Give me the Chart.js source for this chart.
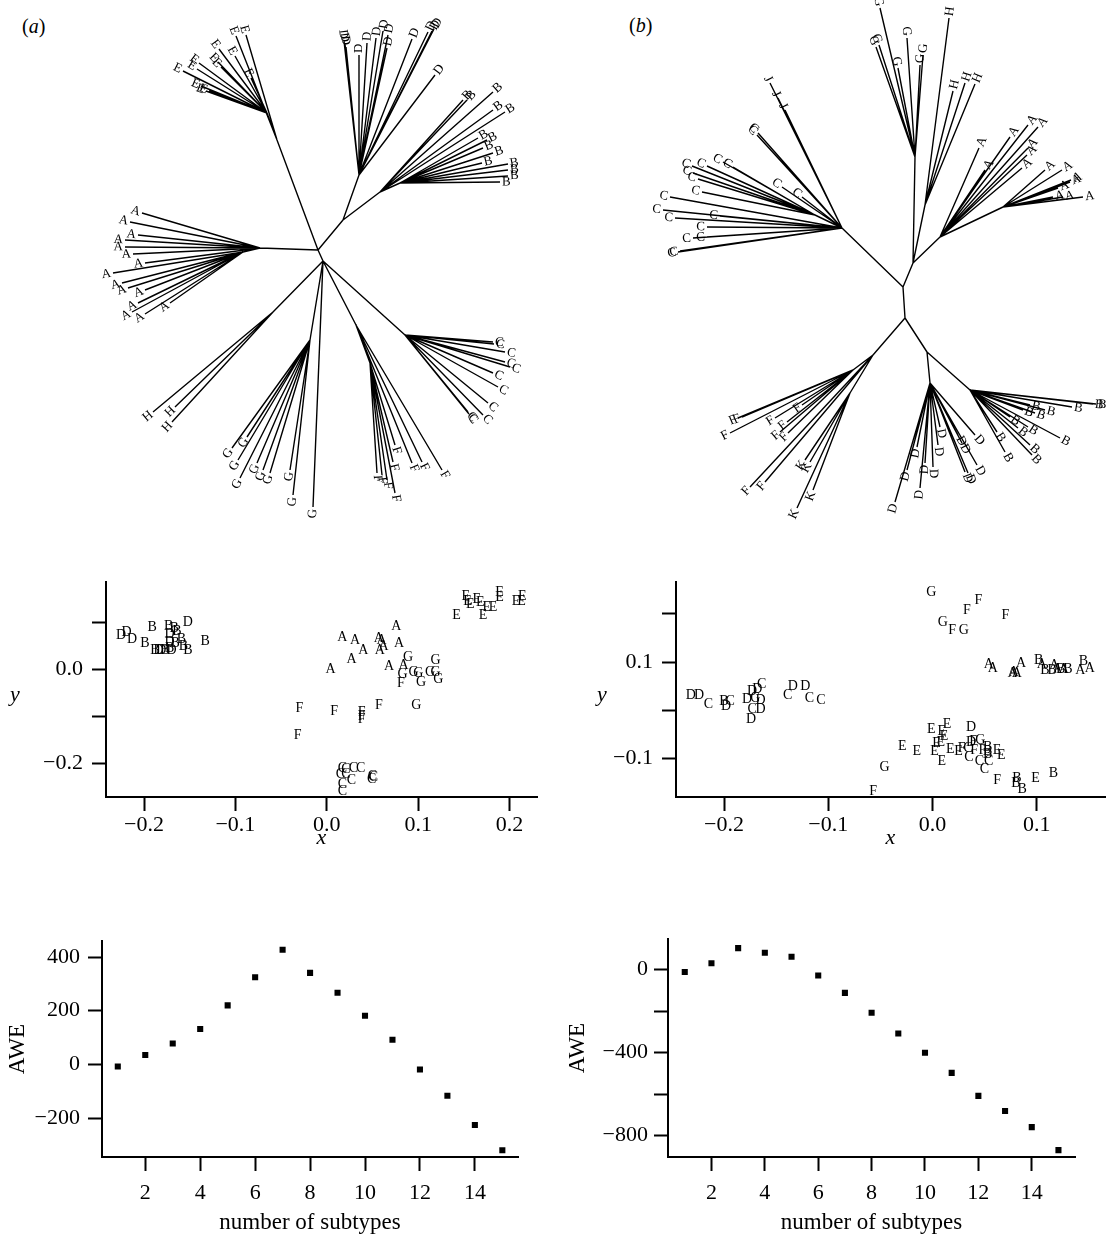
<!DOCTYPE html>
<html><head><meta charset="utf-8">
<script src="https://cdn.jsdelivr.net/npm/chart.js@4.4.1/dist/chart.umd.min.js"></script>
<style>
body{margin:0;background:#fff;width:1115px;height:1237px;position:relative;overflow:hidden;font-family:"Liberation Serif",serif}
.p{position:absolute}
.lab{position:absolute;font-size:20px;line-height:24px;font-family:"Liberation Serif",serif;color:#000}
</style></head><body>
<div class="lab" style="left:22px;top:14px">(<i>a</i>)</div>
<div class="lab" style="left:629px;top:13px">(<i>b</i>)</div>
<div class="p" style="left:0;top:0;width:557px;height:530px"><canvas id="treeA"></canvas></div>
<div class="p" style="left:557px;top:0;width:558px;height:530px"><canvas id="treeB"></canvas></div>
<div class="p" style="left:0;top:560px;width:557px;height:300px"><canvas id="scatA"></canvas></div>
<div class="p" style="left:557px;top:560px;width:558px;height:300px"><canvas id="scatB"></canvas></div>
<div class="p" style="left:0;top:920px;width:557px;height:317px"><canvas id="aweA"></canvas></div>
<div class="p" style="left:557px;top:920px;width:558px;height:317px"><canvas id="aweB"></canvas></div>
<script>
// ---------------- DATA ----------------
// Tree (a): internal nodes [x, y, parentIndex] (tree units, y downward, root at 0,0)
const treeANodes = [
 [0,0,-1],[25,-30,0],[41,-75,1],[62,-58,1],[82,-67,3],[-41,-110,0],[-51,-137,5],
 [-58,-2,0],[-75,2,7],[5,11,0],[87,85,9],[38,75,9],[52,113,11],[-8,90,9],[-45,62,9]
];
// Tree (a): leaves [label, x, y, parentIndex]
const treeALeaves = [
 ['E',-135,-179,6],['E',-119,-187,6],['E',-121,-181,6],['E',-99,-201,6],['E',-100,-188,6],['E',-97,-183,6],
 ['E',-83,-194,6],['E',-67,-172,6],['E',-117,-164,6],['E',-112,-159,6],['E',-109,-159,6],['E',-82,-214,5],['E',-72,-215,5],
 ['D',28,-203,2],['D',27,-206,2],['D',26,-209,2],['D',41,-195,2],['D',49,-207,2],['D',58,-212,2],['D',65,-219,2],
 ['D',70,-215,2],['D',69,-202,2],['D',94,-211,2],['D',110,-218,2],['D',114,-219,2],['D',116,-221,2],['D',117,-175,2],
 ['B',145,-150,3],['B',149,-150,3],['B',175,-158,3],['B',175,-140,3],['B',187,-138,3],
 ['B',160,-112,4],['B',169,-110,4],['B',165,-102,4],['B',175,-97,4],['B',164,-87,4],['B',190,-86,4],['B',190,-80,4],['B',190,-74,4],['B',182,-68,4],
 ['A',-176,-37,7],['A',-188,-28,7],['A',-180,-15,7],['A',-193,-10,7],['A',-193,-3,7],['A',-185,4,7],['A',-173,13,7],
 ['A',-205,23,8],['A',-196,33,8],['A',-190,38,8],['A',-173,40,8],['A',-180,53,8],['A',-186,62,8],['A',-173,64,8],['A',-148,53,8],
 ['H',-165,162,14],['H',-143,157,14],['H',-146,172,14],
 ['G',-86,198,13],['G',-71,187,13],['G',-80,210,13],['G',-78,228,13],['G',-61,213,13],['G',-55,220,13],['G',-48,223,13],
 ['G',-28,220,13],['G',-25,245,13],['G',-5,257,9],
 ['F',59,223,12],['F',64,225,12],['F',69,230,12],['F',77,195,12],['F',75,212,12],['F',77,243,12],['F',94,213,11],['F',104,212,11],['F',124,220,11],
 ['C',175,92,10],['C',176,94,10],['C',187,102,10],['C',187,112,10],['C',192,117,10],['C',175,123,10],['C',180,137,10],
 ['C',170,153,10],['C',150,162,10],['C',151,164,10],['C',165,165,10]
];
// Tree (b): internal nodes
const treeBNodes = [
 [0,0,-1],[2,31,0],[-61,-59,0],[10,-24,0],[12,-130,3],[22,-82,3],[37,-50,3],[100,-80,6],
 [-88,-72,2],[-30,68,1],[24,65,1],[-50,83,9],[-53,106,9],[27,96,10],[67,103,10]
];
// Tree (b): leaves
const treeBLeaves = [
 ['J',-133,-204,2],['J',-125,-189,2],['J',-118,-177,2],
 ['C',-146,-152,2],['C',-145,-154,2],['C',-233,-90,2],['C',-240,-77,2],['C',-228,-69,2],
 ['C',-211,-121,8],['C',-210,-114,8],['C',-205,-108,8],['C',-201,-95,8],['C',-196,-121,8],['C',-180,-125,8],['C',-170,-120,8],
 ['C',-183,-71,2],['C',-196,-60,2],['C',-196,-50,2],['C',-210,-49,2],['C',-223,-36,2],['C',-225,-35,2],['C',-121,-100,2],['C',-101,-90,2],
 ['G',-23,-279,4],['G',-27,-240,4],['G',-24,-242,4],['G',4,-249,4],['G',-5,-219,4],['G',17,-222,4],['G',20,-232,4],
 ['H',46,-269,5],['H',50,-196,5],['H',62,-204,5],['H',72,-203,5],
 ['A',76,-139,6],['A',82,-117,6],['A',107,-150,6],['A',125,-162,6],['A',135,-160,6],['A',119,-119,6],['A',124,-132,6],['A',125,-139,6],
 ['A',142,-117,7],['A',159,-117,7],['A',167,-105,7],['A',168,-107,7],['A',155,-99,7],['A',150,-90,7],['A',160,-90,7],['A',180,-90,7],
 ['F',-165,131,11],['F',-161,130,11],['F',-173,146,11],['F',-128,131,11],['F',-116,135,11],['F',-123,145,11],['F',-115,146,11],['F',-101,118,11],
 ['F',-153,200,9],['F',-138,195,9],
 ['K',-98,173,12],['K',-93,175,12],['K',-106,221,12],['K',-90,203,12],
 ['D',-8,215,13],['D',4,183,13],['D',14,160,13],['D',17,201,13],['D',22,176,13],['D',30,180,13],['D',35,158,13],['D',37,140,13],
 ['D',55,148,13],['D',74,178,13],['D',72,148,13],['D',62,185,13],['D',65,186,13],['D',59,156,13],
 ['B',94,145,14],['B',102,165,14],['B',107,130,14],['B',115,141,14],['B',125,140,14],['B',127,158,14],['B',129,168,14],['B',157,151,14],
 ['B',127,118,14],['B',120,123,14],['B',132,126,14],['B',142,123,14],['B',169,120,14],['B',190,117,14],['B',193,117,14]
];

// Scatter (a)
const scatALetters = "DDDBBBBBDDDBBBBBBDDBDBAAAAAAAAAAAAAGGGGGGGGGGFFFFFFFFCCCCCCCCCCCCEEEEEEEEEEEEEE".split('');
const scatAX = [-0.225,-0.219,-0.213,-0.191,-0.199,-0.173,-0.167,-0.164,-0.152,-0.172,-0.172,-0.159,-0.166,-0.133,-0.157,-0.152,
 -0.188,-0.184,-0.181,-0.177,-0.170,-0.172,
 0.017,0.031,0.057,0.060,0.076,0.079,0.062,0.058,0.040,0.027,0.004,0.068,0.084,
 0.089,0.119,0.083,0.095,0.100,0.113,0.119,0.103,0.122,0.098,
 0.081,-0.030,0.008,0.038,0.038,0.038,0.057,-0.032,
 0.017,0.021,0.029,0.037,0.015,0.021,0.027,0.017,0.017,0.050,0.049,0.051,
 0.152,0.154,0.157,0.164,0.168,0.175,0.182,0.189,0.189,0.207,0.214,0.213,0.142,0.171];
const scatAY = [0.072,0.079,0.063,0.090,0.056,0.091,0.086,0.081,0.099,0.074,0.058,0.064,0.055,0.060,0.048,0.041,
 0.039,0.039,0.039,0.039,0.039,0.044,
 0.068,0.061,0.066,0.061,0.091,0.055,0.048,0.039,0.039,0.021,0.000,0.006,0.008,
 0.026,0.019,-0.012,-0.007,-0.009,-0.006,-0.006,-0.027,-0.022,-0.078,
 -0.030,-0.083,-0.090,-0.091,-0.100,-0.107,-0.076,-0.140,
 -0.211,-0.213,-0.211,-0.211,-0.224,-0.224,-0.237,-0.244,-0.259,-0.227,-0.235,-0.231,
 0.156,0.145,0.137,0.149,0.143,0.132,0.131,0.164,0.152,0.145,0.156,0.145,0.114,0.114];

// Scatter (b)
const scatBLetters = "GFFFGFGAAAAAABABABABABBAADDCBDCDDCDGDCDDCDDCCEEEEDEEEEEEEFCFDGFFBBBEECCCCEGFFBBBEB".split('');
const scatBX = [-0.001,0.044,0.033,0.070,0.010,0.019,0.030,
 0.054,0.058,0.085,0.078,0.081,0.077,0.102,0.105,0.108,0.117,0.115,0.120,0.123,0.126,0.130,0.145,0.142,0.151,
 -0.232,-0.224,-0.215,-0.200,-0.198,-0.194,-0.178,-0.173,-0.164,-0.168,-0.170,-0.165,-0.173,-0.165,-0.174,-0.139,-0.134,-0.122,-0.118,-0.107,
 -0.001,0.014,0.009,0.011,0.037,-0.029,-0.015,0.002,0.004,0.008,0.017,0.025,0.028,0.034,0.039,0.037,0.046,0.040,0.048,0.053,0.053,0.053,
 0.062,0.066,0.035,0.045,0.054,0.050,0.009,-0.046,-0.057,0.062,0.081,0.080,0.086,0.099,0.116];
const scatBY = [0.244,0.229,0.207,0.196,0.183,0.166,0.166,
 0.095,0.088,0.098,0.079,0.077,0.077,0.103,0.095,0.083,0.093,0.083,0.084,0.084,0.084,0.084,0.101,0.083,0.088,
 0.032,0.032,0.012,0.018,0.008,0.018,0.023,0.039,0.054,0.044,0.025,0.020,0.001,0.001,-0.019,0.032,0.049,0.049,0.025,0.021,
 -0.039,-0.029,-0.044,-0.055,-0.035,-0.075,-0.085,-0.086,-0.068,-0.066,-0.081,-0.086,-0.079,-0.079,-0.065,-0.066,-0.063,-0.083,-0.083,-0.076,-0.085,-0.092,
 -0.083,-0.094,-0.098,-0.107,-0.107,-0.122,-0.107,-0.118,-0.169,-0.146,-0.141,-0.151,-0.164,-0.142,-0.131];

// AWE
const subtypes = [1,2,3,4,5,6,7,8,9,10,11,12,13,14,15];
const aweA = [-8,35,78,132,220,325,427,341,267,181,92,-19,-117,-226,-320];
const aweB = [-11,31,104,82,62,-28,-112,-208,-308,-401,-498,-609,-682,-760,-871];

// Tick values and labels
const scatAXTicks = [-0.2,-0.1,0,0.1,0.2], scatAXLabels = ['\u22120.2','\u22120.1','0.0','0.1','0.2'];
const scatAYTicks = [-0.2,-0.1,0,0.1], scatAYLabels = ['\u22120.2','','0.0',''];
const scatBXTicks = [-0.2,-0.1,0,0.1], scatBXLabels = ['\u22120.2','\u22120.1','0.0','0.1'];
const scatBYTicks = [-0.1,0,0.1,0.2], scatBYLabels = ['\u22120.1','','0.1',''];
const aweXTicks = [2,4,6,8,10,12,14], aweXLabels = ['2','4','6','8','10','12','14'];
const aweAYTicks = [-200,0,200,400], aweAYLabels = ['\u2212200','0','200','400'];
const aweBYTicks = [-800,-600,-400,-200,0], aweBYLabels = ['\u2212800','','\u2212400','','0'];

// ---------------- RENDERING ----------------
const FONT = '"Liberation Serif", "Times New Roman", serif';
Chart.defaults.font.family = FONT;
Chart.defaults.color = '#000';

const lettersPlugin = {
  id: 'letters',
  afterDatasetsDraw(chart) {
    const ctx = chart.ctx;
    chart.data.datasets.forEach((ds, di) => {
      if (!ds.letterMode) return;
      const meta = chart.getDatasetMeta(di);
      ctx.save();
      ctx.fillStyle = '#000';
      ctx.font = ds.letterFont;
      ctx.textBaseline = 'middle';
      meta.data.forEach((el, i) => {
        const raw = ds.data[i];
        if (ds.letterMode === 'center') {
          ctx.textAlign = 'center';
          ctx.fillText(raw.t, el.x, el.y);
        } else {
          const px = chart.scales.x.getPixelForValue(raw.px);
          const py = chart.scales.y.getPixelForValue(raw.py);
          const a = Math.atan2(el.y - py, el.x - px);
          let rot = a, align = 'left';
          if (Math.abs(a) > Math.PI / 2 + 0.02) { rot = a + Math.PI; align = 'right'; }
          ctx.save();
          ctx.translate(el.x + 2 * Math.cos(a), el.y + 2 * Math.sin(a));
          ctx.rotate(rot);
          ctx.textAlign = align;
          ctx.fillText(raw.t, 0, 0);
          ctx.restore();
        }
      });
      ctx.restore();
    });
  }
};

const sideTitle = {
  id: 'sideTitle',
  afterDraw(chart, args, opts) {
    if (!opts || !opts.text) return;
    const ctx = chart.ctx, ca = chart.chartArea;
    ctx.save();
    ctx.fillStyle = '#000';
    ctx.font = opts.font;
    ctx.textAlign = 'center';
    ctx.textBaseline = 'middle';
    ctx.fillText(opts.text, chart.scales.y.left + opts.offset, (ca.top + ca.bottom) / 2 + opts.dy);
    ctx.restore();
  }
};

function treeChart(id, nodes, leaves, xr, yr) {
  const edges = [];
  nodes.forEach(n => {
    if (n[2] >= 0) { const p = nodes[n[2]]; edges.push({x:p[0],y:p[1]},{x:n[0],y:n[1]},{x:null,y:null}); }
  });
  leaves.forEach(l => {
    const p = nodes[l[3]]; edges.push({x:p[0],y:p[1]},{x:l[1],y:l[2]},{x:null,y:null});
  });
  const tips = leaves.map(l => ({x:l[1], y:l[2], px:nodes[l[3]][0], py:nodes[l[3]][1], t:l[0]}));
  new Chart(document.getElementById(id), {
    type: 'scatter',
    data: { datasets: [
      { data: edges, showLine: true, spanGaps: false, borderColor: '#000', borderWidth: 1.4, pointRadius: 0, clip: false },
      { data: tips, pointRadius: 0, letterMode: 'tip', letterFont: '13px ' + FONT, clip: false }
    ]},
    options: {
      responsive: true, maintainAspectRatio: false, animation: false, events: [],
      layout: { padding: 0 },
      plugins: { legend: { display: false }, tooltip: { enabled: false } },
      scales: {
        x: { type: 'linear', display: false, min: xr[0], max: xr[1] },
        y: { type: 'linear', display: false, min: yr[0], max: yr[1], reverse: true }
      }
    },
    plugins: [lettersPlugin]
  });
}

function makeScale(axis, s) {
  return {
    type: 'linear', position: axis === 'x' ? 'bottom' : 'left',
    min: s.min, max: s.max,
    afterBuildTicks: sc => { sc.ticks = s.ticks.map(v => ({ value: v })); },
    afterFit: sc => { if (axis === 'x') sc.height = s.size; else sc.width = s.size; },
    grid: { display: true, drawOnChartArea: false, drawTicks: true, tickLength: s.tl || 14, tickWidth: 2, tickColor: '#000' },
    border: { display: true, color: '#000', width: 2 },
    ticks: { color: '#000', autoSkip: false, maxRotation: 0, minRotation: 0, padding: s.pad,
             font: { family: FONT, size: 22 }, callback: (v, i) => s.labels[i] },
    title: s.title ? { display: true, text: s.title, color: '#000',
             font: { family: FONT, size: s.titleSize || 23, style: s.italic ? 'italic' : 'normal' },
             padding: s.titlePad } : { display: false }
  };
}

function axisChart(id, cfg) {
  new Chart(document.getElementById(id), {
    type: 'scatter',
    data: { datasets: cfg.datasets },
    options: {
      responsive: true, maintainAspectRatio: false, animation: false, events: [],
      layout: { padding: cfg.pad },
      plugins: { legend: { display: false }, tooltip: { enabled: false }, sideTitle: cfg.side || {} },
      scales: { x: makeScale('x', cfg.x), y: makeScale('y', cfg.y) }
    },
    plugins: [lettersPlugin, sideTitle]
  });
}

function letterData(letters, xs, ys) {
  return letters.map((t, i) => ({ x: xs[i], y: ys[i], t: t }));
}
function aweData(vals) { return subtypes.map((s, i) => ({ x: s, y: vals[i] })); }

treeChart('treeA', treeANodes, treeALeaves, [-318, 239], [-250, 280]);
treeChart('treeB', treeBNodes, treeBLeaves, [-346, 212], [-287, 243]);

axisChart('scatA', {
  pad: { left: 0, top: 7, right: 20, bottom: 0 },
  datasets: [{ data: letterData(scatALetters, scatAX, scatAY), pointRadius: 0, letterMode: 'center', letterFont: '14px ' + FONT, clip: false }],
  x: { min: -0.2416, max: 0.230, ticks: scatAXTicks, labels: scatAXLabels, size: 63, pad: 1, title: 'x', italic: true, titleSize: 22, titlePad: { top: 0, bottom: 9 } },
  y: { min: -0.272, max: 0.185, ticks: scatAYTicks, labels: scatAYLabels, size: 106, pad: 9 },
  side: { text: 'y', offset: 15, dy: 6, font: 'italic 22px ' + FONT }
});
axisChart('scatB', {
  pad: { left: 0, top: 8, right: 10, bottom: 0 },
  datasets: [{ data: letterData(scatBLetters, scatBX, scatBY), pointRadius: 0, letterMode: 'center', letterFont: '14px ' + FONT, clip: false }],
  x: { min: -0.2461, max: 0.1656, ticks: scatBXTicks, labels: scatBXLabels, size: 63, pad: 1, title: 'x', italic: true, titleSize: 22, titlePad: { top: 0, bottom: 9 } },
  y: { min: -0.180, max: 0.2657, ticks: scatBYTicks, labels: scatBYLabels, size: 119, pad: 9 },
  side: { text: 'y', offset: 45, dy: 6, font: 'italic 22px ' + FONT }
});
axisChart('aweA', {
  pad: { left: 0, top: 9, right: 39, bottom: 0 },
  datasets: [{ data: aweData(aweA), pointStyle: 'rect', pointRadius: 4.3, backgroundColor: '#000', borderColor: '#000', borderWidth: 0 }],
  x: { min: 0.425, max: 15.57, ticks: aweXTicks, labels: aweXLabels, size: 80, pad: 9, title: 'number of subtypes', titlePad: { top: 0, bottom: 0 } },
  y: { min: -345, max: 459, ticks: aweAYTicks, labels: aweAYLabels, size: 102, pad: 8, title: 'AWE', titlePad: { top: 4, bottom: 0 } }
});
axisChart('aweB', {
  pad: { left: 0, top: 10, right: 40, bottom: 0 },
  datasets: [{ data: aweData(aweB), pointStyle: 'rect', pointRadius: 4.3, backgroundColor: '#000', borderColor: '#000', borderWidth: 0 }],
  x: { min: 0.372, max: 15.62, ticks: aweXTicks, labels: aweXLabels, size: 80, pad: 9, title: 'number of subtypes', titlePad: { top: 0, bottom: 0 } },
  y: { min: -904, max: 147, ticks: aweBYTicks, labels: aweBYLabels, size: 111, pad: 6, title: 'AWE', titlePad: { top: 7, bottom: 0 } }
});
</script>
</body></html>
